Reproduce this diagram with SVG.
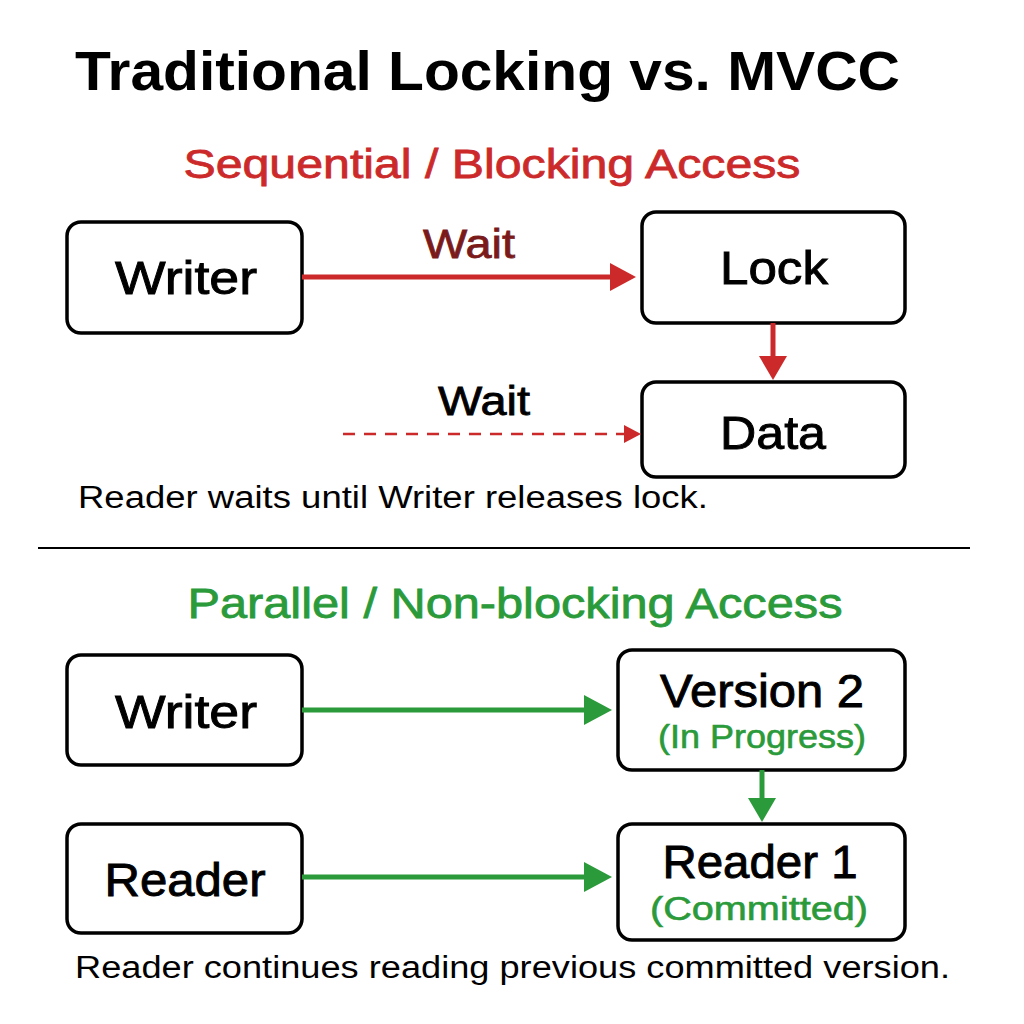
<svg xmlns="http://www.w3.org/2000/svg" width="1024" height="1024" viewBox="0 0 1024 1024">
<defs>
<style>
text{font-family:"Liberation Sans",Arial,sans-serif}
.box{fill:#fff;stroke:#000;stroke-width:3.5}
.lbl{font-size:46px;text-anchor:middle;stroke:#000;stroke-width:0.9}
.sub{font-size:33px;text-anchor:middle;fill:#2a9a3a;stroke:#2a9a3a;stroke-width:0.6}
.note{font-size:31px}
</style>
</defs>
<rect width="1024" height="1024" fill="#fff"/>
<text x="75" y="90" font-size="55" font-weight="bold" textLength="825" lengthAdjust="spacingAndGlyphs">Traditional Locking vs. MVCC</text>
<text x="492" y="178" font-size="41" fill="#cc2a2a" stroke="#cc2a2a" stroke-width="0.8" text-anchor="middle" textLength="617" lengthAdjust="spacingAndGlyphs">Sequential / Blocking Access</text>
<g id="writer1"><rect class="box" x="67" y="222" width="235" height="111" rx="14"/><text class="lbl" x="186" y="294" textLength="142" lengthAdjust="spacingAndGlyphs">Writer</text></g>
<g id="lock"><rect class="box" x="642" y="212" width="263" height="111" rx="14"/><text class="lbl" x="774" y="284" textLength="108" lengthAdjust="spacingAndGlyphs">Lock</text></g>
<g id="data"><rect class="box" x="642" y="382" width="263" height="95" rx="14"/><text class="lbl" x="773" y="449" textLength="106" lengthAdjust="spacingAndGlyphs">Data</text></g>
<g id="writer2"><rect class="box" x="67" y="655" width="235" height="110" rx="14"/><text class="lbl" x="186" y="728" textLength="142" lengthAdjust="spacingAndGlyphs">Writer</text></g>
<g id="version2"><rect class="box" x="618" y="650" width="287" height="120" rx="14"/><text class="lbl" x="762" y="707" font-size="43" textLength="204" lengthAdjust="spacingAndGlyphs">Version 2</text><text class="sub" x="762" y="748" textLength="208" lengthAdjust="spacingAndGlyphs">(In Progress)</text></g>
<g id="reader"><rect class="box" x="67" y="824" width="235" height="109" rx="14"/><text class="lbl" x="185" y="896" textLength="161" lengthAdjust="spacingAndGlyphs">Reader</text></g>
<g id="reader1"><rect class="box" x="618" y="824" width="287" height="116" rx="14"/><text class="lbl" x="760" y="878" font-size="43" textLength="195" lengthAdjust="spacingAndGlyphs">Reader 1</text><text class="sub" x="759" y="920" textLength="218" lengthAdjust="spacingAndGlyphs">(Committed)</text></g>
<g id="connectors">
<line x1="302" y1="277" x2="612" y2="277" stroke="#cc2a2a" stroke-width="5"/>
<polygon points="636,277 610,263 610,291" fill="#cc2a2a"/>
<text x="469" y="258" font-size="41" fill="#7a1a1a" stroke="#7a1a1a" stroke-width="0.8" text-anchor="middle" textLength="92" lengthAdjust="spacingAndGlyphs">Wait</text>
<line x1="773" y1="323" x2="773" y2="358" stroke="#cc2a2a" stroke-width="5"/>
<polygon points="773,380 759,356 787,356" fill="#cc2a2a"/>
<text x="484" y="415" font-size="41" stroke="#000" stroke-width="0.8" text-anchor="middle" textLength="92" lengthAdjust="spacingAndGlyphs">Wait</text>
<line x1="343" y1="434" x2="626" y2="434" stroke="#cc2a2a" stroke-width="2.5" stroke-dasharray="12,9"/>
<polygon points="641,434 624,425 624,443" fill="#cc2a2a"/>
<line x1="302" y1="710" x2="586" y2="710" stroke="#2a9a3a" stroke-width="5"/>
<polygon points="612,710 584,695 584,725" fill="#2a9a3a"/>
<line x1="762" y1="770" x2="762" y2="800" stroke="#2a9a3a" stroke-width="5"/>
<polygon points="762,822 748,798 776,798" fill="#2a9a3a"/>
<line x1="302" y1="877" x2="586" y2="877" stroke="#2a9a3a" stroke-width="5"/>
<polygon points="612,877 584,862 584,892" fill="#2a9a3a"/>
</g>
<text class="note" x="78" y="508" textLength="630" lengthAdjust="spacingAndGlyphs">Reader waits until Writer releases lock.</text>
<line x1="38" y1="548" x2="970" y2="548" stroke="#000" stroke-width="2"/>
<text x="515" y="618" font-size="43" fill="#2a9a3a" stroke="#2a9a3a" stroke-width="0.8" text-anchor="middle" textLength="655" lengthAdjust="spacingAndGlyphs">Parallel / Non-blocking Access</text>
<text class="note" x="75" y="978" textLength="875" lengthAdjust="spacingAndGlyphs">Reader continues reading previous committed version.</text>
</svg>
